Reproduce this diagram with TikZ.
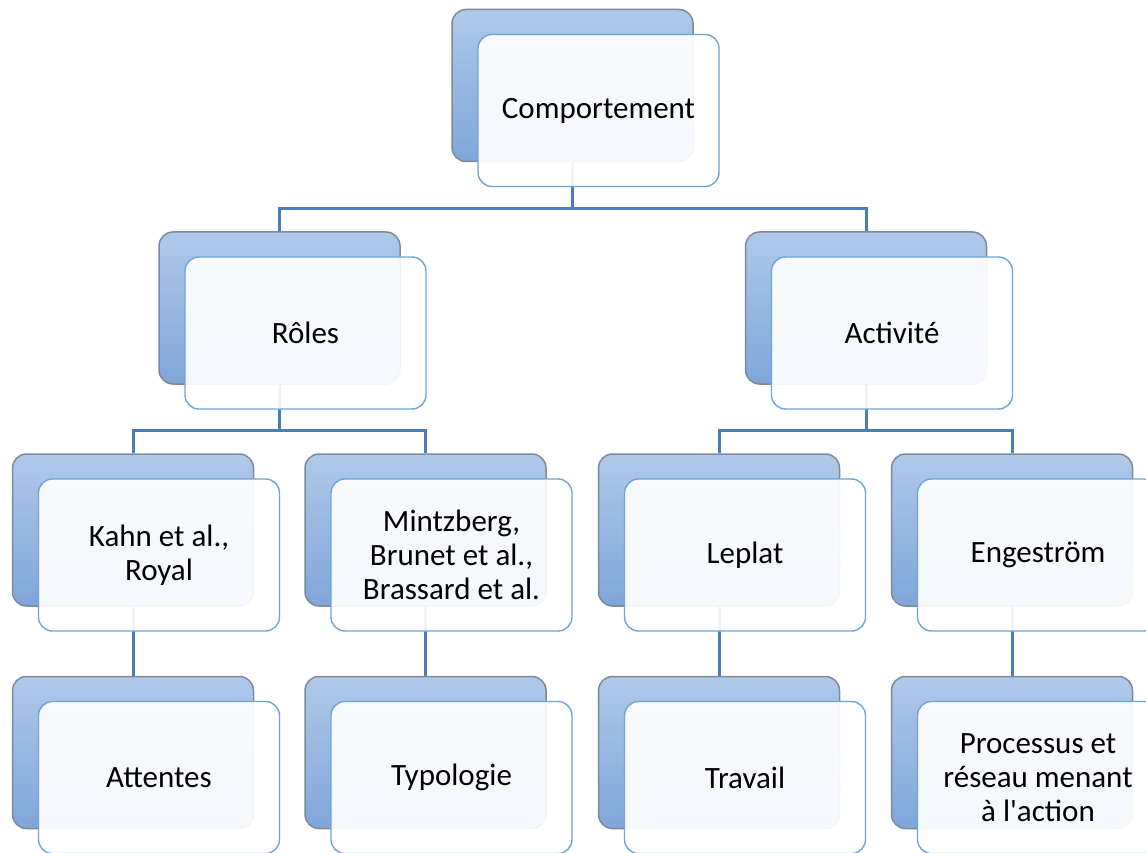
\documentclass[tikz,border=0pt]{standalone}
\usepackage{fontspec}
\setmainfont{Carlito}
\usetikzlibrary{backgrounds}
\definecolor{connblue}{HTML}{4A7EBB}
\definecolor{frontborder}{HTML}{6FA3DC}
\definecolor{backborder}{HTML}{7D8A9A}
\definecolor{backtop}{HTML}{AFC9EA}
\definecolor{backbot}{HTML}{80A6D9}
\tikzset{
  backbox/.style={rounded corners=14pt, minimum width=241pt, minimum height=152pt,
    inner sep=0pt, draw=backborder, line width=1.5pt, top color=backtop, bottom color=backbot},
  frontbox/.style={rounded corners=14pt, minimum width=241pt, minimum height=152pt,
    inner sep=0pt, draw=frontborder, line width=1.4pt, fill=white, fill opacity=0.92,
    text opacity=1, align=center, font=\fontsize{31}{34}\selectfont},
  conn/.style={draw=connblue, line width=3pt}
}
\newcommand\pairnode[4]{%
  \node[backbox] (#1b) at (#2-26,#3-25) {};
  \node[frontbox] (#1) at (#2,#3) {#4};
}
\begin{document}
\begin{tikzpicture}[x=1pt,y=-1pt]
\useasboundingbox (0,0) rectangle (1146,853);
\clip (0,0) rectangle (1146,853);
\pairnode{comp}{598.5}{110.5}{Comportement}
\pairnode{roles}{305.5}{333}{Rôles}
\pairnode{act}{892}{333}{Activité}
\pairnode{kahn}{159}{555}{Kahn et al.,\\Royal}
\pairnode{mintz}{451.5}{555}{Mintzberg,\\Brunet et al.,\\Brassard et al.}
\pairnode{leplat}{745}{555}{Leplat}
\pairnode{enge}{1038}{555}{Engeström}
\pairnode{att}{159}{777.5}{Attentes}
\pairnode{typo}{451.5}{777.5}{Typologie}
\pairnode{trav}{745}{777.5}{Travail}
\pairnode{proc}{1038}{777.5}{Processus et\\réseau menant\\à l\textquotesingle action}
\begin{pgfonlayer}{background}
  \draw[conn] (compb.south) -- ++(0,46) coordinate (j1);
  \draw[conn] (j1) -| (rolesb.north);
  \draw[conn] (j1) -| (actb.north);
  \draw[conn] (rolesb.south) -- ++(0,46) coordinate (j2);
  \draw[conn] (j2) -| (kahnb.north);
  \draw[conn] (j2) -| (mintzb.north);
  \draw[conn] (actb.south) -- ++(0,46) coordinate (j3);
  \draw[conn] (j3) -| (leplatb.north);
  \draw[conn] (j3) -| (engeb.north);
  \draw[conn] (kahnb.south) -- (attb.north);
  \draw[conn] (mintzb.south) -- (typob.north);
  \draw[conn] (leplatb.south) -- (travb.north);
  \draw[conn] (engeb.south) -- (procb.north);
\end{pgfonlayer}
\end{tikzpicture}
\end{document}
